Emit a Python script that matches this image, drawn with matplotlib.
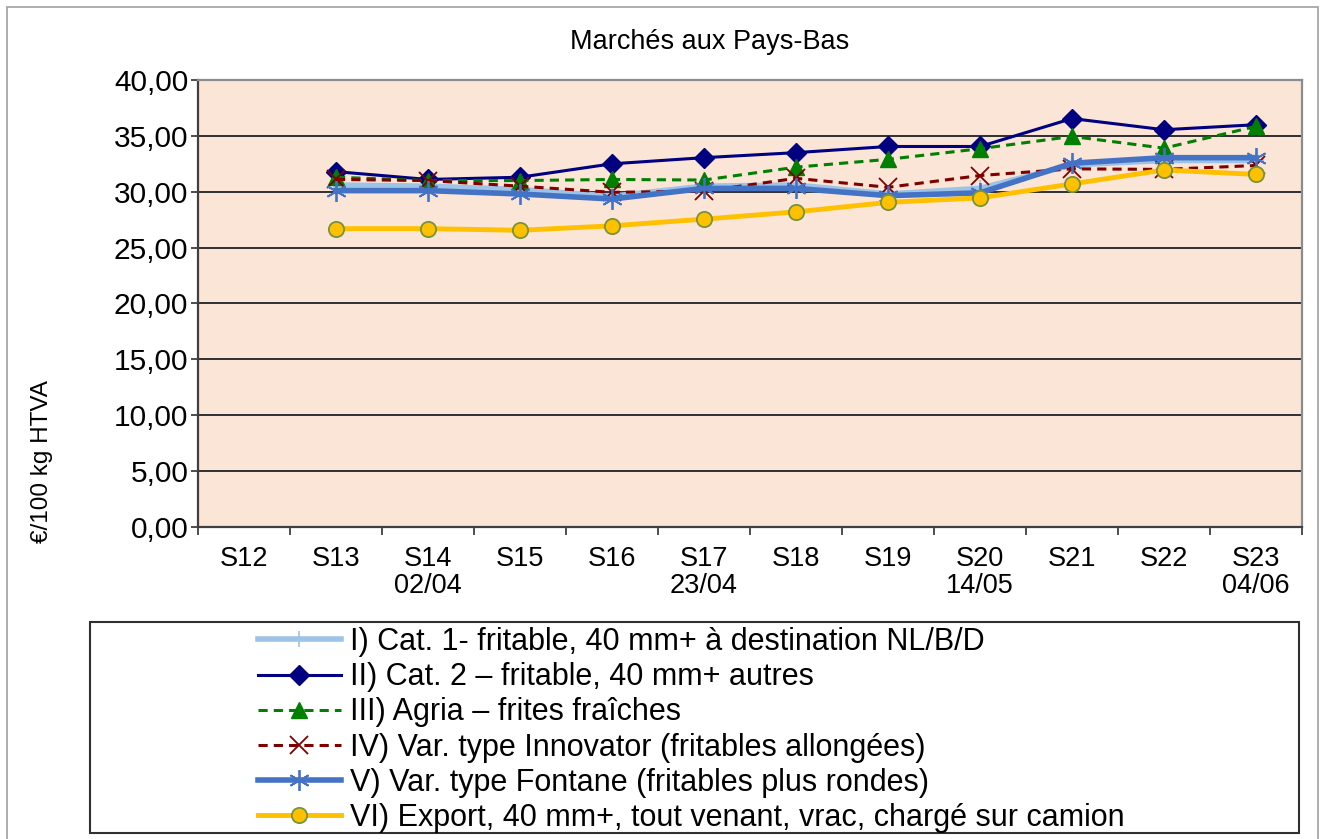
import numpy as np
import matplotlib.pyplot as plt
from matplotlib.patches import Rectangle

# semaines et valeurs (€/100 kg HTVA)
weeks = ["S12", "S13", "S14\n02/04", "S15", "S16", "S17\n23/04",
         "S18", "S19", "S20\n14/05", "S21", "S22", "S23\n04/06"]
nan = np.nan
cat1 = [nan, 30.6, 30.5, 30.2, 29.6, 30.5, 30.6, 29.8, 30.3, 32.4, 32.8, 32.8]
cat2 = [nan, 31.8, 31.1, 31.3, 32.5, 33.05, 33.5, 34.05, 34.05, 36.55, 35.55, 36.0]
agria = [nan, 31.3, 31.0, 31.0, 31.1, 31.05, 32.2, 32.9, 33.85, 34.95, 33.9, 35.85]
innovator = [nan, 31.1, 31.0, 30.5, 29.95, 30.05, 31.2, 30.4, 31.45, 32.05, 32.0, 32.35]
fontane = [nan, 30.1, 30.1, 29.8, 29.35, 30.3, 30.3, 29.65, 29.9, 32.55, 33.05, 33.05]
export = [nan, 26.7, 26.7, 26.55, 26.95, 27.55, 28.2, 29.05, 29.45, 30.7, 31.95, 31.55]

labels = [
    "I) Cat. 1- fritable, 40 mm+ à destination NL/B/D",
    "II) Cat. 2 – fritable, 40 mm+ autres",
    "III) Agria – frites fraîches",
    "IV) Var. type Innovator (fritables allongées)",
    "V) Var. type Fontane (fritables plus rondes)",
    "VI) Export, 40 mm+, tout venant, vrac, chargé sur camion",
]

plt.rcParams['font.family'] = ['Liberation Sans', 'DejaVu Sans']

W, H = 1325, 839
fig = plt.figure(figsize=(W / 100, H / 100), dpi=100)
ax = fig.add_axes([198 / W, 1 - 527 / H, (1302 - 198) / W, (527 - 80) / H])
ax.set_facecolor('#FBE5D6')

x = np.arange(len(weeks))
h1, = ax.plot(x, cat1, color='#9DC3E6', lw=4, marker='+', ms=12, mew=1.2,
              mec='#9DC3E6')
h2, = ax.plot(x, cat2, color='#000080', lw=2.2, marker='D', ms=10)
h3, = ax.plot(x, agria, color='#008000', lw=2.2, ls=(0, (3, 2)), marker='^', ms=12)
h4, = ax.plot(x, innovator, color='#800000', lw=2.2, ls=(0, (3, 2)), marker='x',
              ms=13, mew=1.3)
h5, = ax.plot(x, fontane, color='#4472C4', lw=4, marker=(6, 2, 0), ms=15,
              mew=1.3, mec='#4472C4')
h6, = ax.plot(x, export, color='#FFC000', lw=3.5, marker='o', ms=11,
              mfc='#FFC000', mec='#77933C', mew=1.3)

ax.set_xlim(-0.5, len(weeks) - 0.5)
ax.set_ylim(0, 40)
ax.set_yticks(np.arange(0, 41, 5))
ax.set_yticklabels([f"{v:.2f}".replace('.', ',') for v in np.arange(0, 41, 5)],
                   fontsize=21.5)
ax.tick_params(axis='y', direction='out', length=5, width=1.3, pad=2,
               color='#404040')
ax.set_xticks(np.arange(-0.5, len(weeks), 1))
ax.set_xticklabels([])
ax.set_xticks(x, minor=True)
ax.set_xticklabels(weeks, minor=True, fontsize=19.5, linespacing=1.05)
ax.tick_params(axis='x', which='major', direction='out', length=6, width=1.3,
               color='#404040')
ax.tick_params(axis='x', which='minor', length=0, pad=14)
ax.grid(axis='y', color='#303030', lw=1.4)
ax.set_axisbelow(True)
for s in ['left', 'bottom']:
    ax.spines[s].set_color('#404040')
    ax.spines[s].set_linewidth(1.6)
for s in ['top', 'right']:
    ax.spines[s].set_color('#8C8C8C')
    ax.spines[s].set_linewidth(1.6)

fig.text(710 / W, 1 - 42 / H, "Marchés aux Pays-Bas", fontsize=19.5,
         ha='center', va='center')
fig.text(42 / W, 1 - 462 / H, "€/100 kg HTVA", fontsize=17.5, rotation=90,
         ha='center', va='center')

# cadre de la légende et bordure extérieure
fig.patches.append(Rectangle((90 / W, 1 - 833 / H), (1299 - 90) / W,
                             (833 - 622) / H, transform=fig.transFigure,
                             fill=False, ec='#303030', lw=1.5))
fig.patches.append(Rectangle((7 / W, -0.01), (1318 - 7) / W, 1 - 7 / H + 0.01,
                             transform=fig.transFigure, fill=False,
                             ec='#A0A0A0', lw=1.2))

fig.legend([h1, h2, h3, h4, h5, h6], labels, loc='upper left',
           bbox_to_anchor=(258 / W, 1 - 627 / H), frameon=False, fontsize=22,
           borderpad=0, labelspacing=0.17, handlelength=2.7, handletextpad=0.3,
           borderaxespad=0)

fig.savefig('out.png', dpi=100, facecolor='white')
